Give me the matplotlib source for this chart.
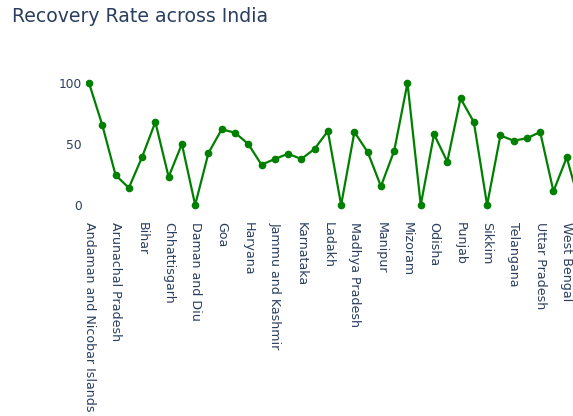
import numpy as np
import matplotlib
matplotlib.use("Agg")
import matplotlib.pyplot as plt

# --------------------------
# Data
# --------------------------
states = [
    "Andaman and Nicobar Islands", "Andhra Pradesh", "Arunachal Pradesh", "Assam",
    "Bihar", "Chandigarh", "Chhattisgarh", "Dadra and Nagar Haveli",
    "Daman and Diu", "Delhi", "Goa", "Gujarat", "Haryana", "Himachal Pradesh",
    "Jammu and Kashmir", "Jharkhand", "Karnataka", "Kerala", "Ladakh",
    "Lakshadweep", "Madhya Pradesh", "Maharashtra", "Manipur", "Meghalaya",
    "Mizoram", "Nagaland", "Odisha", "Puducherry", "Punjab", "Rajasthan",
    "Sikkim", "Tamil Nadu", "Telangana", "Tripura", "Uttar Pradesh",
    "Uttarakhand", "West Bengal", "State Unassigned",
]
recovery = [
    100, 65.6, 24.6, 14, 39.3, 68, 23, 50, 0, 42.6,
    62, 59.3, 50, 33, 37.7, 42, 37.7, 46, 60.6, 0,
    59.8, 43.4, 15.3, 44.5, 100, 0, 58, 35.5, 87.4, 68,
    0, 57, 52.7, 54.7, 59.8, 11.2, 39, 0,
]

text_color = "#2a3f5f"
plt.rcParams["font.family"] = ["DejaVu Sans"]

# --------------------------
# Plot
# --------------------------
W, H = 573, 416
fig = plt.figure(figsize=(W / 100, H / 100), dpi=100)
left_px, right_px, top_px, bottom_px = 86, 573, 60, 215
ax = fig.add_axes([left_px / W, 1 - bottom_px / H,
                   (right_px - left_px) / W, (bottom_px - top_px) / H])

x = np.arange(len(states))
ax.plot(x, recovery, color="green", linewidth=1.6, marker="o", markersize=4.5)

# category axis: first point at px 89, step 13.27 px
step = 13.27
ax.set_xlim(-(89 - left_px) / step, (right_px - 89) / step)
ax.set_ylim((bottom_px - 205) / -1.22, (205 - top_px) / 1.22)

ax.set_xticks(x[::2])
ax.set_xticklabels(states[::2], rotation=-90, fontsize=9.1, color=text_color,
                   va="top", ha="center")
ax.set_yticks([0, 50, 100])
ax.set_yticklabels(["0", "50", "100"], fontsize=8.8, color=text_color)
ax.tick_params(axis="both", length=0)
ax.tick_params(axis="x", pad=5)
ax.tick_params(axis="y", pad=3)

for s in ax.spines.values():
    s.set_visible(False)

fig.text(12 / W, 1 - 16 / H, "Recovery Rate across India", fontsize=13.6,
         color=text_color, va="center", ha="left")

fig.savefig("out.png", dpi=100)
